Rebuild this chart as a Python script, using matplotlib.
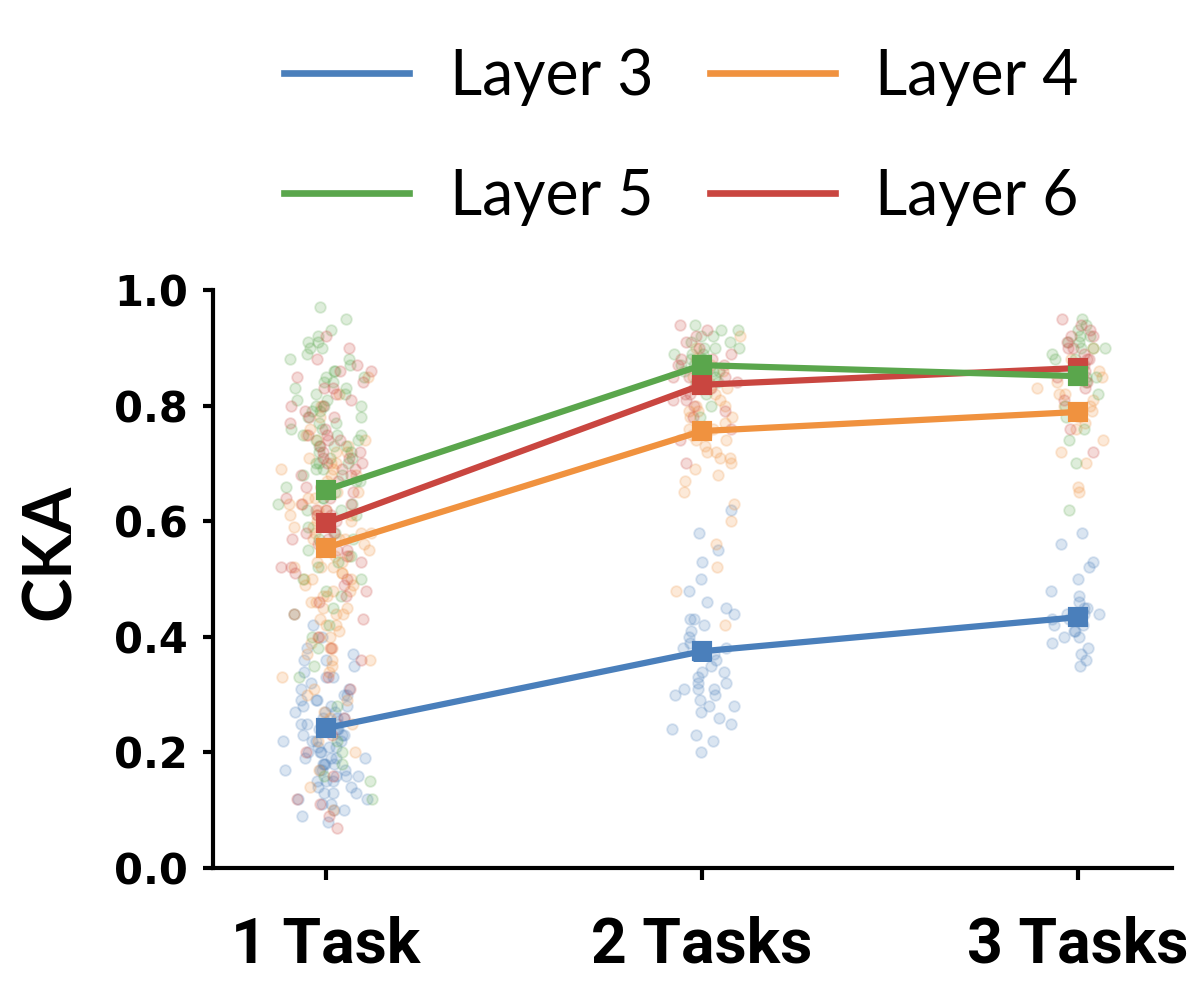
import numpy as np
import matplotlib
matplotlib.use("Agg")
import matplotlib.pyplot as plt
from matplotlib.lines import Line2D

# ---------------- data ----------------
categories = ["1 Task", "2 Tasks", "3 Tasks"]
layers = ["Layer 3", "Layer 4", "Layer 5", "Layer 6"]
colors = ["#4a7fbb", "#f0923f", "#5aa64c", "#c94640"]

mean_l3 = [0.242, 0.375, 0.434]
mean_l4 = [0.554, 0.756, 0.789]
mean_l5 = [0.654, 0.870, 0.851]
mean_l6 = [0.597, 0.836, 0.865]

err_l3 = [0.010, 0.014, 0.012]
err_l4 = [0.011, 0.012, 0.013]
err_l5 = [0.011, 0.008, 0.010]
err_l6 = [0.012, 0.009, 0.010]

# individual CKA values (read approximately from the cloud of dots)
pts_l3_t1 = [0.08, 0.09, 0.10, 0.11, 0.11, 0.12, 0.13, 0.13, 0.14, 0.15, 0.15, 0.16, 0.16, 0.17,
             0.17, 0.18, 0.18, 0.18, 0.19, 0.19, 0.20, 0.20, 0.21, 0.21, 0.22, 0.22, 0.22, 0.23,
             0.23, 0.24, 0.24, 0.25, 0.25, 0.26, 0.26, 0.27, 0.27, 0.28, 0.28, 0.29, 0.30, 0.30,
             0.31, 0.32, 0.33, 0.34, 0.35, 0.36, 0.37, 0.38, 0.40, 0.42, 0.29, 0.19, 0.14, 0.23,
             0.26, 0.31, 0.17, 0.12, 0.20, 0.24, 0.27, 0.18, 0.16, 0.21, 0.29, 0.15, 0.33, 0.19,
             0.25, 0.13, 0.22, 0.28, 0.10, 0.36, 0.17, 0.24]
pts_l4_t1 = [0.10, 0.14, 0.17, 0.20, 0.22, 0.25, 0.27, 0.29, 0.31, 0.33, 0.34, 0.36, 0.37, 0.38,
             0.39, 0.40, 0.41, 0.42, 0.43, 0.44, 0.45, 0.46, 0.47, 0.47, 0.48, 0.49, 0.50, 0.50,
             0.51, 0.52, 0.52, 0.53, 0.54, 0.54, 0.55, 0.56, 0.56, 0.57, 0.58, 0.58, 0.59, 0.60,
             0.60, 0.61, 0.62, 0.62, 0.63, 0.64, 0.65, 0.65, 0.66, 0.67, 0.68, 0.69, 0.70, 0.71,
             0.72, 0.73, 0.74, 0.75, 0.76, 0.78, 0.80, 0.82, 0.85, 0.44, 0.49, 0.53, 0.57, 0.61,
             0.66, 0.70, 0.38, 0.35, 0.46, 0.59, 0.63, 0.68, 0.72, 0.51, 0.42, 0.55, 0.48, 0.64,
             0.58, 0.45, 0.30, 0.26, 0.69, 0.52, 0.61, 0.40, 0.57, 0.74, 0.50, 0.36]
pts_l5_t1 = [0.12, 0.15, 0.18, 0.22, 0.28, 0.33, 0.38, 0.42, 0.45, 0.48, 0.50, 0.52, 0.54, 0.55,
             0.57, 0.58, 0.59, 0.60, 0.61, 0.62, 0.63, 0.64, 0.65, 0.66, 0.66, 0.67, 0.68, 0.69,
             0.70, 0.70, 0.71, 0.72, 0.73, 0.74, 0.75, 0.75, 0.76, 0.77, 0.78, 0.79, 0.80, 0.80,
             0.81, 0.82, 0.83, 0.84, 0.85, 0.86, 0.87, 0.88, 0.89, 0.90, 0.91, 0.92, 0.93, 0.95,
             0.97, 0.69, 0.73, 0.77, 0.81, 0.63, 0.57, 0.84, 0.88, 0.71, 0.65, 0.79, 0.74, 0.60,
             0.53, 0.47, 0.40, 0.35, 0.86, 0.90, 0.68, 0.76, 0.82, 0.72, 0.16, 0.20, 0.56, 0.62,
             0.78, 0.85, 0.67, 0.73, 0.80, 0.44, 0.50, 0.91, 0.75, 0.64, 0.70, 0.83]
pts_l6_t1 = [0.07, 0.09, 0.12, 0.16, 0.20, 0.26, 0.31, 0.36, 0.40, 0.43, 0.46, 0.48, 0.50, 0.51,
             0.52, 0.53, 0.54, 0.55, 0.56, 0.57, 0.58, 0.59, 0.60, 0.60, 0.61, 0.62, 0.63, 0.64,
             0.65, 0.65, 0.66, 0.67, 0.68, 0.69, 0.70, 0.71, 0.72, 0.73, 0.74, 0.75, 0.76, 0.77,
             0.78, 0.79, 0.80, 0.81, 0.82, 0.83, 0.84, 0.85, 0.86, 0.87, 0.88, 0.90, 0.92, 0.62,
             0.66, 0.70, 0.74, 0.78, 0.58, 0.55, 0.49, 0.44, 0.38, 0.33, 0.68, 0.72, 0.80, 0.64,
             0.11, 0.23, 0.57, 0.61, 0.75, 0.83, 0.69, 0.52, 0.47, 0.86, 0.63, 0.71]

pts_l3_t2 = [0.20, 0.22, 0.23, 0.24, 0.25, 0.26, 0.27, 0.28, 0.29, 0.30, 0.30, 0.31, 0.31, 0.32,
             0.32, 0.33, 0.34, 0.35, 0.36, 0.37, 0.38, 0.39, 0.40, 0.41, 0.42, 0.43, 0.44, 0.45,
             0.46, 0.48, 0.50, 0.53, 0.55, 0.58, 0.62, 0.28, 0.34, 0.38, 0.43, 0.31]
pts_l4_t2 = [0.42, 0.48, 0.52, 0.56, 0.60, 0.63, 0.65, 0.67, 0.68, 0.69, 0.70, 0.71, 0.72, 0.72,
             0.73, 0.74, 0.74, 0.75, 0.76, 0.76, 0.77, 0.78, 0.78, 0.79, 0.80, 0.80, 0.81, 0.82,
             0.83, 0.84, 0.85, 0.86, 0.87, 0.88, 0.90, 0.92, 0.75, 0.79, 0.71, 0.83]
pts_l5_t2 = [0.78, 0.80, 0.82, 0.83, 0.84, 0.85, 0.85, 0.86, 0.86, 0.87, 0.87, 0.88, 0.88, 0.88,
             0.89, 0.89, 0.90, 0.90, 0.91, 0.91, 0.92, 0.92, 0.93, 0.93, 0.94, 0.86, 0.89, 0.90,
             0.87, 0.84]
pts_l6_t2 = [0.70, 0.74, 0.76, 0.78, 0.79, 0.80, 0.81, 0.82, 0.82, 0.83, 0.83, 0.84, 0.84, 0.85,
             0.85, 0.86, 0.86, 0.87, 0.87, 0.88, 0.89, 0.90, 0.91, 0.92, 0.93, 0.94, 0.83, 0.85,
             0.81, 0.88]

pts_l3_t3 = [0.35, 0.36, 0.37, 0.38, 0.39, 0.40, 0.41, 0.41, 0.42, 0.42, 0.43, 0.43, 0.44, 0.44,
             0.45, 0.45, 0.46, 0.47, 0.48, 0.50, 0.52, 0.53, 0.56, 0.58, 0.40, 0.44]
pts_l4_t3 = [0.65, 0.66, 0.70, 0.72, 0.74, 0.76, 0.78, 0.79, 0.80, 0.81, 0.82, 0.83, 0.84, 0.85,
             0.86, 0.88, 0.90, 0.80, 0.77, 0.82]
pts_l5_t3 = [0.62, 0.70, 0.74, 0.76, 0.78, 0.80, 0.82, 0.84, 0.85, 0.86, 0.87, 0.88, 0.89, 0.90,
             0.90, 0.91, 0.91, 0.92, 0.92, 0.93, 0.94, 0.95, 0.85, 0.88, 0.90]
pts_l6_t3 = [0.72, 0.76, 0.79, 0.81, 0.83, 0.85, 0.86, 0.87, 0.88, 0.89, 0.90, 0.91, 0.92, 0.93,
             0.94, 0.95, 0.88, 0.84, 0.90, 0.92]

means = [mean_l3, mean_l4, mean_l5, mean_l6]
errs = [err_l3, err_l4, err_l5, err_l6]
points = [[pts_l3_t1, pts_l3_t2, pts_l3_t3],
          [pts_l4_t1, pts_l4_t2, pts_l4_t3],
          [pts_l5_t1, pts_l5_t2, pts_l5_t3],
          [pts_l6_t1, pts_l6_t2, pts_l6_t3]]

# ---------------- figure ----------------
fig = plt.figure(figsize=(4, 3.33), dpi=300)
ax = fig.add_axes([0.1775, 0.1311, 0.7992, 0.5786])

x = np.arange(len(categories))
jitter_w = [0.085, 0.065, 0.07]


def jitter(n, off):
    # deterministic hash-based spread (visual jitter only)
    i = np.arange(n) + 1.0
    u1 = np.modf(np.abs(np.sin(i * 12.9898 + off * 78.233)) * 43758.5453)[0]
    u2 = np.modf(np.abs(np.sin(i * 39.3468 + off * 11.135)) * 24634.6345)[0]
    return u1 + u2 - 1.0


for li in range(4):
    for ci in range(3):
        vals = np.asarray(points[li][ci])
        xs = x[ci] + jitter(len(vals), 1.3 * li + 0.7 * ci + 0.5) * jitter_w[ci] * 1.6
        ax.scatter(xs, vals, s=6.5, facecolor=colors[li], edgecolor=colors[li],
                   alpha=0.2, linewidths=0.45, zorder=1)

z_order = [3, 4, 6, 5]
for li in range(4):
    ax.errorbar(x, means[li], yerr=errs[li], color=colors[li], marker="s",
                markersize=4, linewidth=1.5, elinewidth=1.5, capsize=2.2,
                capthick=1.2, zorder=z_order[li])

ax.set_xlim(-0.3, 2.25)
ax.set_ylim(0, 1.0)
ax.set_xticks(x)
ax.set_xticklabels(categories, fontfamily=["Roboto", "DejaVu Sans"],
                   fontweight="bold", fontsize=15)
ax.set_yticks([0.0, 0.2, 0.4, 0.6, 0.8, 1.0])
ax.set_yticklabels(["0.0", "0.2", "0.4", "0.6", "0.8", "1.0"],
                   fontfamily="DejaVu Sans", fontweight="bold", fontsize=10)
ax.tick_params(axis="y", length=2.5, width=1.0, pad=3.5)
ax.tick_params(axis="x", length=2.8, width=1.0, pad=8.5)
for s in ["top", "right"]:
    ax.spines[s].set_visible(False)
for s in ["left", "bottom"]:
    ax.spines[s].set_linewidth(1.0)

ax.set_ylabel("CKA", fontfamily=["Lato", "DejaVu Sans"], fontweight="bold", fontsize=16)
ax.yaxis.set_label_coords(-0.137, 0.547)

handles = [Line2D([], [], color=c, linewidth=1.6) for c in colors]
order = [0, 2, 1, 3]
fig.legend([handles[i] for i in order], [layers[i] for i in order],
           loc="center", bbox_to_anchor=(0.568, 0.863), ncol=2, frameon=False,
           prop={"family": ["Lato", "DejaVu Sans"], "size": 15},
           handlelength=2.0, handletextpad=0.65, columnspacing=0.9,
           labelspacing=1.0, borderaxespad=0, borderpad=0)

fig.savefig("out.png", dpi=300)
